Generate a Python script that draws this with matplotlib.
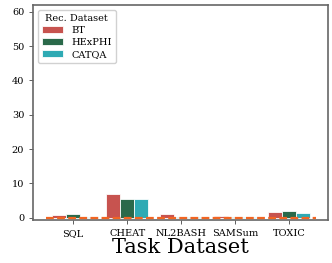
import numpy as np
import matplotlib
matplotlib.use("Agg")
import matplotlib.pyplot as plt

tasks = ["SQL", "CHEAT", "NL2BASH", "SAMSum", "TOXIC"]
rec_sets = ["BT", "HExPHI", "CATQA"]
bt = [0.8, 6.8, 1.0, 0.4, 1.6]
hexphi = [1.0, 5.4, 0.2, 0.2, 2.0]
catqa = [0.3, 5.4, 0.2, 0.3, 1.5]
colors = ["#c44a45", "#1e6140", "#22a6b0"]

plt.rcParams["font.family"] = "DejaVu Serif"

fig = plt.figure(figsize=(3.32, 2.63), dpi=100)
ax = fig.add_axes([0.1, 0.163, 0.888, 0.818])

x = np.arange(len(tasks))
w = 0.26
for i, (vals, name) in enumerate(zip([bt, hexphi, catqa], rec_sets)):
    ax.bar(x + (i - 1) * w, vals, width=w, color=colors[i], edgecolor="white",
           linewidth=0.6, alpha=0.95, label=name)

# reference line at zero
ax.hlines(0, -0.5, 4.5, colors="#f26522", linestyles=(0, (3.5, 1.5)), linewidth=1.6, zorder=3)

ax.set_xlim(-0.74, 4.72)
ax.set_ylim(-0.7, 62)
ax.set_yticks([0, 10, 20, 30, 40, 50, 60])
ax.set_xticks(x)
ax.set_xticklabels(tasks)
ax.tick_params(labelsize=7, length=3, width=0.6, color="#444444")
ax.set_xlabel("Task Dataset", fontsize=15, labelpad=0)
for s in ax.spines.values():
    s.set_color("#666666")
    s.set_linewidth(1.2)

leg = ax.legend(title="Rec. Dataset", loc="upper left", fontsize=7, title_fontsize=7,
                handlelength=2.2, handleheight=0.8, borderpad=0.4, labelspacing=0.3,
                framealpha=0.9, edgecolor="#cccccc", bbox_to_anchor=(0.0, 1.0))

fig.savefig("out.png", dpi=100)
